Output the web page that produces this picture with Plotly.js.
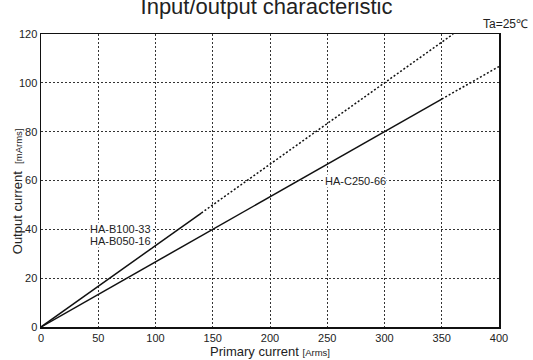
<!DOCTYPE html>
<html>
<head>
<meta charset="utf-8">
<script src="https://cdn.plot.ly/plotly-3.0.1.min.js"></script>
<style>html,body{margin:0;padding:0;background:#fff;}#chart{width:533px;height:360px;}</style>
</head>
<body>
<div id="chart"></div>
<script>
// HA-B100-33 / HA-B050-16 (ratio 1/3 mA per A)
var b_solid_x = [0, 140];
var b_solid_y = [0, 46.67];
var b_dot_x = [140, 360];
var b_dot_y = [46.67, 120];
// HA-C250-66 (ratio 0.2667 mA per A)
var c_solid_x = [0, 350];
var c_solid_y = [0, 93.33];
var c_dot_x = [350, 400];
var c_dot_y = [93.33, 106.67];

var xTicks = [0, 50, 100, 150, 200, 250, 300, 350, 400];
var yTicks = [0, 20, 40, 60, 80, 100, 120];

var labels = [
  {text: 'HA-B100-33', x: 69, y: 40.3},
  {text: 'HA-B050-16', x: 69, y: 35.4},
  {text: 'HA-C250-66', x: 275, y: 60}
];

var lineColor = '#111';
var traces = [
  {x: b_solid_x, y: b_solid_y, mode: 'lines', line: {color: lineColor, width: 1.5}},
  {x: b_dot_x, y: b_dot_y, mode: 'lines', line: {color: lineColor, width: 1.5, dash: '2px,2px'}},
  {x: c_solid_x, y: c_solid_y, mode: 'lines', line: {color: lineColor, width: 1.5}},
  {x: c_dot_x, y: c_dot_y, mode: 'lines', line: {color: lineColor, width: 1.5, dash: '2px,2px'}}
];

var annotations = labels.map(function (l) {
  return {x: l.x, y: l.y, xref: 'x', yref: 'y', text: l.text, showarrow: false,
    bgcolor: '#fff', borderpad: 0, font: {size: 11, color: '#222'}};
});
annotations.push({xref: 'paper', yref: 'paper', x: 1.068, y: 1.003, xanchor: 'right', yanchor: 'bottom',
  text: 'Ta=25℃', showarrow: false, font: {size: 12, color: '#222'}});
annotations.push({xref: 'paper', yref: 'paper', x: -0.052, y: 0.464, xanchor: 'center', yanchor: 'middle',
  textangle: -90, showarrow: false,
  text: 'Output current  <span style="font-size:9.5px">[mArms]</span>', font: {size: 13, color: '#222'}});

var font = {family: 'Liberation Sans, Arial, sans-serif', color: '#222'};
var layout = {
  width: 533, height: 360,
  margin: {l: 41, r: 34, t: 34, b: 33},
  paper_bgcolor: '#fff', plot_bgcolor: '#fff',
  showlegend: false,
  font: font,
  title: {text: 'Input/output characteristic', font: {size: 22, color: '#222'}, x: 0.5, xanchor: 'center', y: 0.983, yanchor: 'middle'},
  xaxis: {
    range: [0, 400], tickvals: xTicks, ticks: '', tickfont: {size: 11},
    showgrid: true, gridcolor: '#333', gridwidth: 1, griddash: '2px,2px',
    showline: true, mirror: true, linecolor: '#111', linewidth: 1.5, zeroline: false,
    title: {text: 'Primary current <span style="font-size:9.5px">[Arms]</span>', font: {size: 13}, standoff: 2}
  },
  yaxis: {
    range: [0, 120], tickvals: yTicks, ticks: '', tickfont: {size: 11},
    showgrid: true, gridcolor: '#333', gridwidth: 1, griddash: '2px,2px',
    showline: true, mirror: true, linecolor: '#111', linewidth: 1.5, zeroline: false
  },
  annotations: annotations
};

Plotly.newPlot('chart', traces, layout, {displayModeBar: false, staticPlot: true});
</script>
</body>
</html>
